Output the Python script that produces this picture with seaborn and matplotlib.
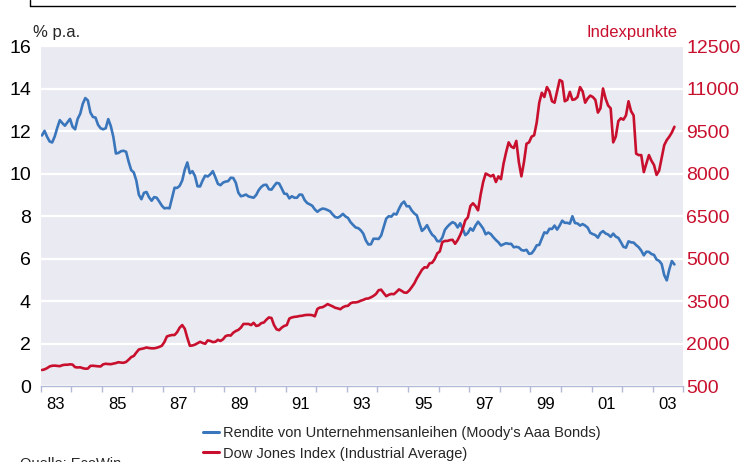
import numpy as np
import pandas as pd
import matplotlib
matplotlib.use("Agg")
import matplotlib.pyplot as plt
from matplotlib.lines import Line2D
import seaborn as sns

# ===========================
# Data (monthly, Jan 1983 - Sep 2003)
# ===========================
start_year = 1983

# Moody's Aaa corporate bond yield, % p.a.
yield_pct = [
    11.79, 12.01, 11.73, 11.51, 11.46, 11.74, 12.15, 12.51, 12.37, 12.25, 12.41, 12.57,
    12.20, 12.08, 12.57, 12.81, 13.28, 13.55, 13.44, 12.87, 12.66, 12.63, 12.29, 12.13,
    12.08, 12.13, 12.56, 12.23, 11.72, 10.94, 10.97, 11.05, 11.07, 11.02, 10.55, 10.16,
    10.05, 9.67, 9.00, 8.79, 9.09, 9.13, 8.88, 8.72, 8.89, 8.86, 8.68, 8.49,
    8.36, 8.38, 8.36, 8.85, 9.33, 9.32, 9.42, 9.67, 10.18, 10.52, 10.01, 10.11,
    9.88, 9.40, 9.39, 9.67, 9.90, 9.86, 9.96, 10.11, 9.82, 9.51, 9.45, 9.57,
    9.62, 9.64, 9.80, 9.79, 9.57, 9.10, 8.93, 8.96, 9.01, 8.92, 8.89, 8.86,
    8.99, 9.22, 9.37, 9.46, 9.47, 9.26, 9.24, 9.41, 9.56, 9.53, 9.30, 9.05,
    9.04, 8.83, 8.93, 8.86, 8.86, 9.01, 9.00, 8.75, 8.61, 8.55, 8.48, 8.31,
    8.20, 8.29, 8.35, 8.33, 8.28, 8.22, 8.07, 7.95, 7.92, 7.99, 8.10, 7.98,
    7.91, 7.71, 7.58, 7.46, 7.43, 7.33, 7.17, 6.85, 6.66, 6.67, 6.93, 6.93,
    6.92, 7.08, 7.48, 7.88, 7.99, 7.97, 8.11, 8.07, 8.34, 8.57, 8.68, 8.46,
    8.46, 8.26, 8.12, 8.03, 7.65, 7.30, 7.41, 7.57, 7.32, 7.12, 7.02, 6.82,
    6.81, 6.99, 7.35, 7.50, 7.62, 7.71, 7.65, 7.46, 7.66, 7.39, 7.10, 7.20,
    7.42, 7.31, 7.55, 7.73, 7.58, 7.41, 7.14, 7.22, 7.15, 7.00, 6.87, 6.76,
    6.61, 6.67, 6.72, 6.69, 6.69, 6.53, 6.55, 6.52, 6.40, 6.37, 6.41, 6.22,
    6.24, 6.40, 6.62, 6.64, 6.93, 7.23, 7.19, 7.40, 7.39, 7.55, 7.36, 7.55,
    7.78, 7.68, 7.68, 7.64, 7.99, 7.67, 7.65, 7.55, 7.62, 7.55, 7.45, 7.21,
    7.15, 7.10, 6.98, 7.20, 7.29, 7.18, 7.13, 7.02, 7.17, 7.03, 6.97, 6.77,
    6.55, 6.51, 6.81, 6.76, 6.75, 6.63, 6.53, 6.37, 6.15, 6.32, 6.31, 6.21,
    6.17, 5.95, 5.89, 5.74, 5.22, 4.97, 5.49, 5.88, 5.72,
]

# Dow Jones Industrial Average, index points
dow_pts = [
    1064, 1087, 1130, 1190, 1215, 1220, 1210, 1200, 1235, 1250, 1250, 1265,
    1255, 1165, 1155, 1160, 1130, 1110, 1115, 1210, 1215, 1205, 1195, 1190,
    1265, 1285, 1275, 1270, 1290, 1310, 1340, 1325, 1320, 1350, 1430, 1520,
    1560, 1680, 1790, 1810, 1830, 1860, 1840, 1830, 1830, 1850, 1880, 1920,
    2050, 2250, 2280, 2300, 2300, 2400, 2560, 2650, 2520, 2200, 1920, 1930,
    1960, 2010, 2060, 2020, 1990, 2110, 2090, 2050, 2060, 2130, 2090, 2150,
    2260, 2290, 2280, 2380, 2440, 2480, 2560, 2690, 2690, 2690, 2650, 2730,
    2620, 2640, 2720, 2740, 2840, 2920, 2900, 2650, 2500, 2470, 2560, 2620,
    2650, 2880, 2920, 2940, 2950, 2970, 2980, 3000, 3010, 3010, 3000, 2960,
    3220, 3270, 3280, 3330, 3390, 3350, 3310, 3260, 3240, 3210, 3280, 3320,
    3330, 3420, 3450, 3450, 3470, 3510, 3540, 3580, 3590, 3630, 3680, 3750,
    3880, 3900, 3780, 3670, 3720, 3750, 3740, 3820, 3910, 3860, 3800, 3790,
    3870, 3990, 4120, 4300, 4450, 4600, 4690, 4680, 4830, 4850, 4980, 5180,
    5250, 5580, 5620, 5620, 5650, 5660, 5520, 5650, 5830, 6050, 6350, 6450,
    6850, 6950, 6850, 6700, 7250, 7700, 8000, 7950, 7900, 7950, 7700, 7900,
    7800, 8350, 8750, 9100, 8950, 8900, 9150, 8400, 7900, 8400, 9050, 9100,
    9300, 9350, 9800, 10500, 10850, 10700, 11050, 10900, 10550, 10500, 10900, 11300,
    11250, 10550, 10600, 10880, 10600, 10620, 10700, 11050, 10900, 10500, 10650, 10750,
    10700, 10600, 10150, 10300, 11000, 10650, 10400, 10300, 9100, 9300, 9850, 9950,
    9900, 10050, 10550, 10200, 10050, 8700, 8650, 8650, 8050, 8350, 8650, 8450,
    8300, 7950, 8100, 8550, 9000, 9180, 9300, 9450, 9650,
]

year_labels = ["83", "85", "87", "89", "91", "93", "95", "97", "99", "01", "03"]
left_ticks = [0, 2, 4, 6, 8, 10, 12, 14, 16]
right_ticks = [500, 2000, 3500, 5000, 6500, 8000, 9500, 11000, 12500]

label_yield = "Rendite von Unternehmensanleihen (Moody's Aaa Bonds)"
label_dow = "Dow Jones Index (Industrial Average)"

# month position as fractional year (mid-month)
t = start_year + (np.arange(len(yield_pct)) + 0.5) / 12
df = pd.DataFrame({"t": t, "yield": yield_pct, "dow": dow_pts})

# ===========================
# Style
# ===========================
sns.set_theme(style="darkgrid")
plt.rcParams["font.family"] = ["Liberation Sans", "DejaVu Sans"]

BLUE = "#3A76BC"
RED = "#C8102E"
AXCOL = "#B3B9D6"

fig = plt.figure(figsize=(7.52, 4.62), dpi=100)
ax = fig.add_axes([0.0541, 0.1645, 0.8546, 0.7359])
ax2 = ax.twinx()

sns.lineplot(data=df, x="t", y="yield", ax=ax, color=BLUE, lw=1.9)
sns.lineplot(data=df, x="t", y="dow", ax=ax2, color=RED, lw=1.9)

ax.set_xlim(1983, 2004)
ax.set_ylim(0, 16)
ax2.set_ylim(500, 12500)

ax.set_yticks(left_ticks)
ax.set_yticklabels([str(v) for v in left_ticks], fontsize=14, color="black")
ax2.set_yticks(right_ticks)
ax2.set_yticklabels([str(v) for v in right_ticks], fontsize=14, color=RED)

ax.set_xticks([y + 0.5 for y in range(1983, 2004, 2)])
ax.set_xticklabels(year_labels, fontsize=12, color="black")
ax.set_xticks(range(1983, 2005), minor=True)

ax.tick_params(axis="x", which="major", length=0, pad=8)
ax.tick_params(axis="x", which="minor", length=4, width=1, color=AXCOL,
               direction="out", bottom=True)
ax.tick_params(axis="y", length=0, pad=7)
ax2.tick_params(axis="y", length=0, pad=2)

ax.grid(axis="x", visible=False)
ax.grid(axis="y", color="white", lw=1.6)
ax2.grid(False)

for s in ["top", "left", "right"]:
    ax.spines[s].set_visible(False)
    ax2.spines[s].set_visible(False)
ax.spines["bottom"].set_visible(True)
ax.spines["bottom"].set_color(AXCOL)
ax.spines["bottom"].set_linewidth(1)
ax2.spines["bottom"].set_visible(False)

ax.set_xlabel("")
ax.set_ylabel("")
ax2.set_ylabel("")

fig.text(33 / 752, 1 - 32 / 462, "% p.a.", fontsize=12, va="center", ha="left")
fig.text(677 / 752, 1 - 32 / 462, "Indexpunkte", fontsize=12, va="center",
         ha="right", color=RED)

handles = [Line2D([], [], color=BLUE, lw=2.2), Line2D([], [], color=RED, lw=2.2)]
fig.legend(handles, [label_yield, label_dow], loc="upper left",
           bbox_to_anchor=(203 / 752, 1 - 426 / 462), frameon=False,
           fontsize=10.5, handlelength=1.1, handletextpad=0.25,
           labelspacing=0.45, borderpad=0, borderaxespad=0)

fig.text(20 / 752, 1 - 464 / 462, "Quelle: EcoWin", fontsize=10.5,
         va="center", ha="left")

# frame line at the very top
fig.add_artist(Line2D([30 / 752, 735 / 752], [1 - 6 / 462, 1 - 6 / 462],
                      color="black", lw=1))
fig.add_artist(Line2D([30 / 752, 30 / 752], [1 - 6 / 462, 1.0],
                      color="black", lw=1))

fig.savefig("out.png", dpi=100)
